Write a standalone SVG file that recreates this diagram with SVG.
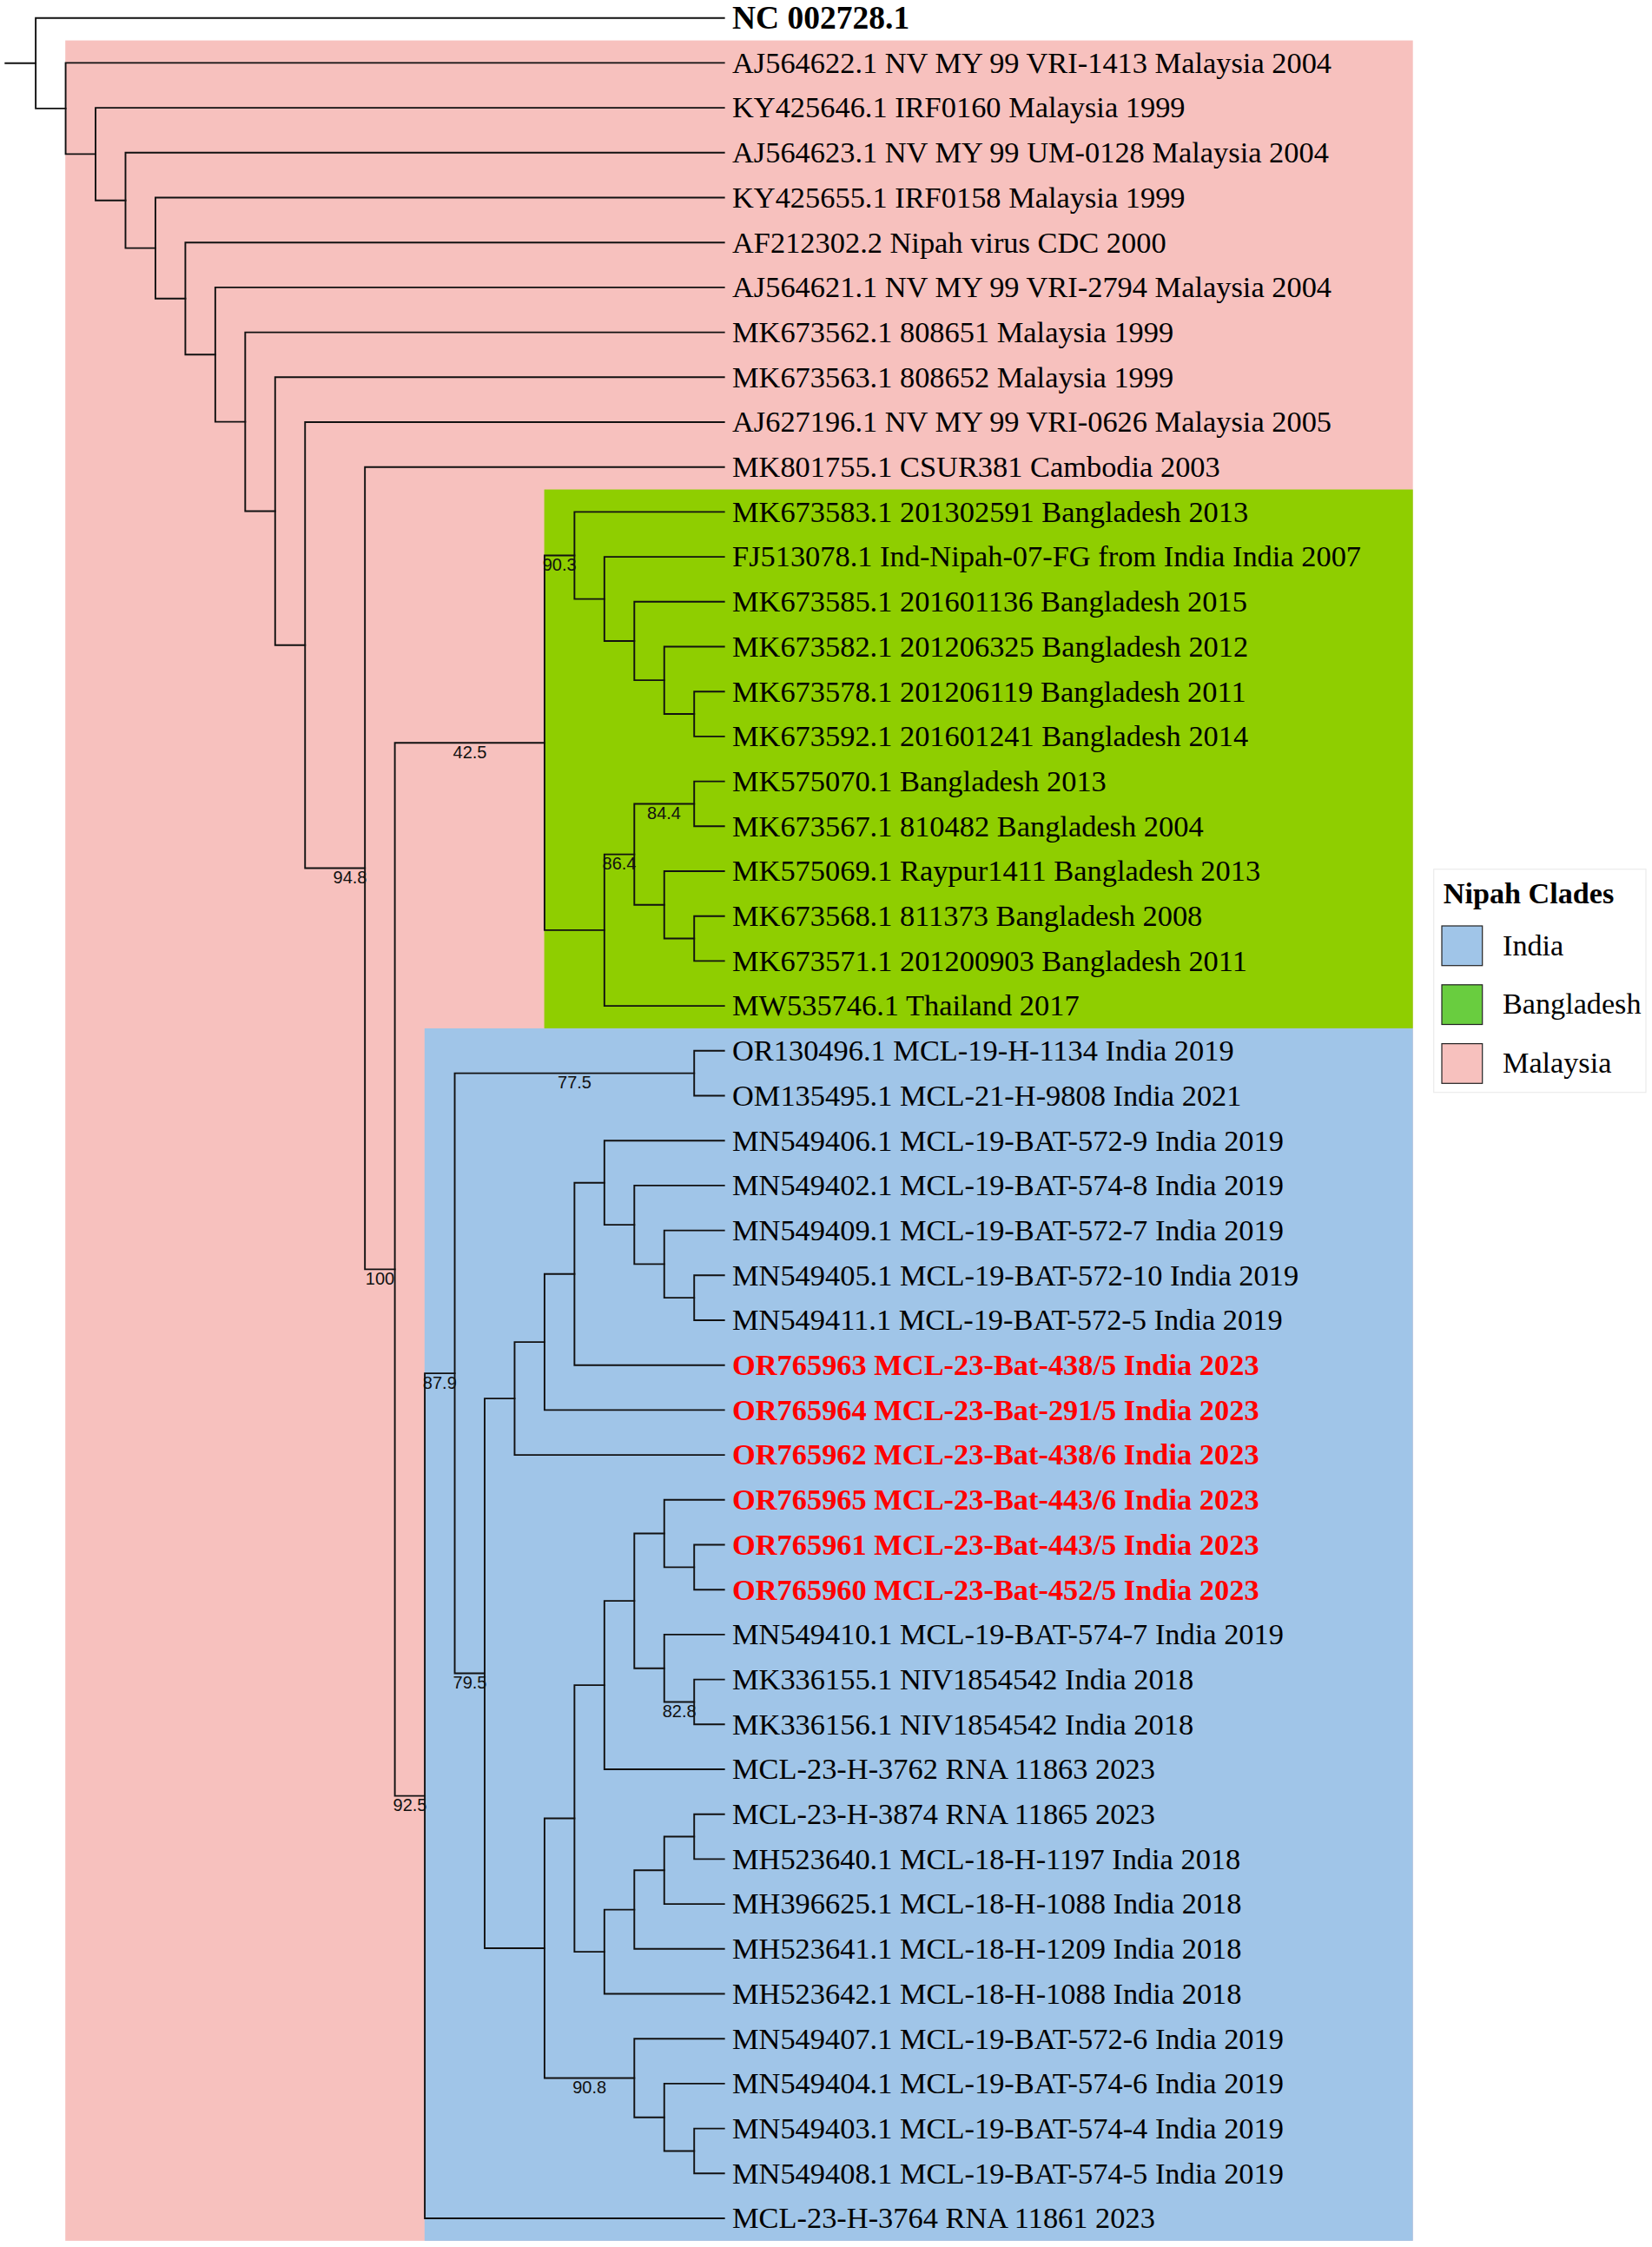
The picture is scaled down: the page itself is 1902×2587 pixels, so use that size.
<svg xmlns="http://www.w3.org/2000/svg" width="1902" height="2587" viewBox="0 0 1902 2587">
<style>
.tip{font-family:"Liberation Serif","Times New Roman",serif;font-size:34.4px;fill:#000}
.hl{font-weight:bold;fill:#f00}
.bold{font-weight:bold}
.big{font-size:37.5px}
.bs{font-family:"Liberation Sans",Arial,sans-serif;font-size:20px;fill:#111;text-anchor:middle}
.edge{fill:none;stroke:#111;stroke-width:1.9;stroke-linecap:square}
.lg{font-family:"Liberation Serif","Times New Roman",serif;font-size:34.2px;fill:#000}
.key{stroke:#222;stroke-width:1.2}
</style>
<rect width="1902" height="2587" fill="#fff"/>
<g id="clades">
<rect id="clade-malaysia" x="75.2" y="46.55" width="1551.5" height="2533.3" fill="#F7C1BE"/>
<rect id="clade-bangladesh" x="626.6" y="563.55" width="1000.1" height="620.4" fill="#8FCE00"/>
<rect id="clade-india" x="488.8" y="1183.95" width="1137.9" height="1395.9" fill="#A0C5E8"/>
</g>
<g id="connectors">
<path class="edge" d="M6.25,72.8H41.1"/>
<path class="edge" d="M41.1,20.7V124.9M41.1,20.7H833.7M41.1,124.9H75.56"/>
<path class="edge" d="M75.56,72.4V177.4M75.56,72.4H833.7M75.56,177.4H110.02"/>
<path class="edge" d="M110.02,124.1V230.7M110.02,124.1H833.7M110.02,230.7H144.48"/>
<path class="edge" d="M144.48,175.8V285.6M144.48,175.8H833.7M144.48,285.6H178.94"/>
<path class="edge" d="M178.94,227.5V343.7M178.94,227.5H833.7M178.94,343.7H213.4"/>
<path class="edge" d="M213.4,279.2V408.2M213.4,279.2H833.7M213.4,408.2H247.86"/>
<path class="edge" d="M247.86,330.9V485.6M247.86,330.9H833.7M247.86,485.6H282.32"/>
<path class="edge" d="M282.32,382.6V588.5M282.32,382.6H833.7M282.32,588.5H316.78"/>
<path class="edge" d="M316.78,434.3V742.8M316.78,434.3H833.7M316.78,742.8H351.24"/>
<path class="edge" d="M351.24,486V999.5M351.24,486H833.7M351.24,999.5H420.16"/>
<path class="edge" d="M420.16,537.7V1461.4M420.16,537.7H833.7M420.16,1461.4H454.62"/>
<path class="edge" d="M454.62,855.2V2067.6M454.62,855.2H626.92M454.62,2067.6H489.08"/>
<path class="edge" d="M626.92,639.5V1070.9M626.92,639.5H661.38M626.92,1070.9H695.84"/>
<path class="edge" d="M661.38,589.4V689.6M661.38,589.4H833.7M661.38,689.6H695.84"/>
<path class="edge" d="M695.84,641.1V738M695.84,641.1H833.7M695.84,738H730.3"/>
<path class="edge" d="M730.3,692.8V783.1M730.3,692.8H833.7M730.3,783.1H764.76"/>
<path class="edge" d="M764.76,744.5V822.05M764.76,744.5H833.7M764.76,822.05H799.22"/>
<path class="edge" d="M799.22,796.2V847.9M799.22,796.2H833.7M799.22,847.9H833.7"/>
<path class="edge" d="M695.84,983.6V1158.1M695.84,983.6H730.3M695.84,1158.1H833.7"/>
<path class="edge" d="M730.3,925.45V1041.8M730.3,925.45H799.22M730.3,1041.8H764.76"/>
<path class="edge" d="M799.22,899.6V951.3M799.22,899.6H833.7M799.22,951.3H833.7"/>
<path class="edge" d="M764.76,1003V1080.55M764.76,1003H833.7M764.76,1080.55H799.22"/>
<path class="edge" d="M799.22,1054.7V1106.4M799.22,1054.7H833.7M799.22,1106.4H833.7"/>
<path class="edge" d="M489.08,1581.1V2554M489.08,1581.1H523.54M489.08,2554H833.7"/>
<path class="edge" d="M523.54,1235.65V1926.5M523.54,1235.65H799.22M523.54,1926.5H558"/>
<path class="edge" d="M799.22,1209.8V1261.5M799.22,1209.8H833.7M799.22,1261.5H833.7"/>
<path class="edge" d="M558,1610.1V2243M558,1610.1H592.46M558,2243H626.92"/>
<path class="edge" d="M592.46,1545.1V1675.1M592.46,1545.1H626.92M592.46,1675.1H833.7"/>
<path class="edge" d="M626.92,1466.7V1623.4M626.92,1466.7H661.38M626.92,1623.4H833.7"/>
<path class="edge" d="M661.38,1361.7V1571.7M661.38,1361.7H695.84M661.38,1571.7H833.7"/>
<path class="edge" d="M695.84,1313.2V1410.1M695.84,1313.2H833.7M695.84,1410.1H730.3"/>
<path class="edge" d="M730.3,1364.9V1455.4M730.3,1364.9H833.7M730.3,1455.4H764.76"/>
<path class="edge" d="M764.76,1416.6V1494.15M764.76,1416.6H833.7M764.76,1494.15H799.22"/>
<path class="edge" d="M799.22,1468.3V1520M799.22,1468.3H833.7M799.22,1520H833.7"/>
<path class="edge" d="M626.92,2093.5V2392.5M626.92,2093.5H661.38M626.92,2392.5H730.3"/>
<path class="edge" d="M661.38,1940.1V2247.1M661.38,1940.1H695.84M661.38,2247.1H695.84"/>
<path class="edge" d="M695.84,1843.1V2037M695.84,1843.1H730.3M695.84,2037H833.7"/>
<path class="edge" d="M730.3,1765.5V1920.7M730.3,1765.5H764.76M730.3,1920.7H764.76"/>
<path class="edge" d="M764.76,1726.8V1804.35M764.76,1726.8H833.7M764.76,1804.35H799.22"/>
<path class="edge" d="M799.22,1778.5V1830.2M799.22,1778.5H833.7M799.22,1830.2H833.7"/>
<path class="edge" d="M764.76,1881.9V1959.45M764.76,1881.9H833.7M764.76,1959.45H799.22"/>
<path class="edge" d="M799.22,1933.6V1985.3M799.22,1933.6H833.7M799.22,1985.3H833.7"/>
<path class="edge" d="M695.84,2198.6V2295.5M695.84,2198.6H730.3M695.84,2295.5H833.7"/>
<path class="edge" d="M730.3,2153.3V2243.8M730.3,2153.3H764.76M730.3,2243.8H833.7"/>
<path class="edge" d="M764.76,2114.55V2192.1M764.76,2114.55H799.22M764.76,2192.1H833.7"/>
<path class="edge" d="M799.22,2088.7V2140.4M799.22,2088.7H833.7M799.22,2140.4H833.7"/>
<path class="edge" d="M730.3,2347.2V2437.7M730.3,2347.2H833.7M730.3,2437.7H764.76"/>
<path class="edge" d="M764.76,2398.9V2476.45M764.76,2398.9H833.7M764.76,2476.45H799.22"/>
<path class="edge" d="M799.22,2450.6V2502.3M799.22,2450.6H833.7M799.22,2502.3H833.7"/>
</g>
<g id="support-values">
<text class="bs" x="403" y="1017">94.8</text>
<text class="bs" x="541" y="872.7">42.5</text>
<text class="bs" x="437.5" y="1478.9">100</text>
<text class="bs" x="472" y="2085.1">92.5</text>
<text class="bs" x="506.3" y="1598.6">87.9</text>
<text class="bs" x="541" y="1944">79.5</text>
<text class="bs" x="661.5" y="1253.2">77.5</text>
<text class="bs" x="644.2" y="657">90.3</text>
<text class="bs" x="713" y="1001.1">86.4</text>
<text class="bs" x="764.5" y="943">84.4</text>
<text class="bs" x="782.2" y="1977">82.8</text>
<text class="bs" x="678.7" y="2410">90.8</text>
</g>
<g id="tips">
<g id="tip00"><text class="tip bold big" x="843" y="33">NC 002728.1</text></g>
<g id="tip01"><text class="tip" x="843" y="83.7">AJ564622.1 NV MY 99 VRI-1413 Malaysia 2004</text></g>
<g id="tip02"><text class="tip" x="843" y="135.4">KY425646.1 IRF0160 Malaysia 1999</text></g>
<g id="tip03"><text class="tip" x="843" y="187.1">AJ564623.1 NV MY 99 UM-0128 Malaysia 2004</text></g>
<g id="tip04"><text class="tip" x="843" y="238.8">KY425655.1 IRF0158 Malaysia 1999</text></g>
<g id="tip05"><text class="tip" x="843" y="290.5">AF212302.2 Nipah virus CDC 2000</text></g>
<g id="tip06"><text class="tip" x="843" y="342.2">AJ564621.1 NV MY 99 VRI-2794 Malaysia 2004</text></g>
<g id="tip07"><text class="tip" x="843" y="393.9">MK673562.1 808651 Malaysia 1999</text></g>
<g id="tip08"><text class="tip" x="843" y="445.6">MK673563.1 808652 Malaysia 1999</text></g>
<g id="tip09"><text class="tip" x="843" y="497.3">AJ627196.1 NV MY 99 VRI-0626 Malaysia 2005</text></g>
<g id="tip10"><text class="tip" x="843" y="549">MK801755.1 CSUR381 Cambodia 2003</text></g>
<g id="tip11"><text class="tip" x="843" y="600.7">MK673583.1 201302591 Bangladesh 2013</text></g>
<g id="tip12"><text class="tip" x="843" y="652.4">FJ513078.1 Ind-Nipah-07-FG from India India 2007</text></g>
<g id="tip13"><text class="tip" x="843" y="704.1">MK673585.1 201601136 Bangladesh 2015</text></g>
<g id="tip14"><text class="tip" x="843" y="755.8">MK673582.1 201206325 Bangladesh 2012</text></g>
<g id="tip15"><text class="tip" x="843" y="807.5">MK673578.1 201206119 Bangladesh 2011</text></g>
<g id="tip16"><text class="tip" x="843" y="859.2">MK673592.1 201601241 Bangladesh 2014</text></g>
<g id="tip17"><text class="tip" x="843" y="910.9">MK575070.1 Bangladesh 2013</text></g>
<g id="tip18"><text class="tip" x="843" y="962.6">MK673567.1 810482 Bangladesh 2004</text></g>
<g id="tip19"><text class="tip" x="843" y="1014.3">MK575069.1 Raypur1411 Bangladesh 2013</text></g>
<g id="tip20"><text class="tip" x="843" y="1066">MK673568.1 811373 Bangladesh 2008</text></g>
<g id="tip21"><text class="tip" x="843" y="1117.7">MK673571.1 201200903 Bangladesh 2011</text></g>
<g id="tip22"><text class="tip" x="843" y="1169.4">MW535746.1 Thailand 2017</text></g>
<g id="tip23"><text class="tip" x="843" y="1221.1">OR130496.1 MCL-19-H-1134 India 2019</text></g>
<g id="tip24"><text class="tip" x="843" y="1272.8">OM135495.1 MCL-21-H-9808 India 2021</text></g>
<g id="tip25"><text class="tip" x="843" y="1324.5">MN549406.1 MCL-19-BAT-572-9 India 2019</text></g>
<g id="tip26"><text class="tip" x="843" y="1376.2">MN549402.1 MCL-19-BAT-574-8 India 2019</text></g>
<g id="tip27"><text class="tip" x="843" y="1427.9">MN549409.1 MCL-19-BAT-572-7 India 2019</text></g>
<g id="tip28"><text class="tip" x="843" y="1479.6">MN549405.1 MCL-19-BAT-572-10 India 2019</text></g>
<g id="tip29"><text class="tip" x="843" y="1531.3">MN549411.1 MCL-19-BAT-572-5 India 2019</text></g>
<g id="tip30"><text class="tip hl" x="843" y="1583">OR765963 MCL-23-Bat-438/5 India 2023</text></g>
<g id="tip31"><text class="tip hl" x="843" y="1634.7">OR765964 MCL-23-Bat-291/5 India 2023</text></g>
<g id="tip32"><text class="tip hl" x="843" y="1686.4">OR765962 MCL-23-Bat-438/6 India 2023</text></g>
<g id="tip33"><text class="tip hl" x="843" y="1738.1">OR765965 MCL-23-Bat-443/6 India 2023</text></g>
<g id="tip34"><text class="tip hl" x="843" y="1789.8">OR765961 MCL-23-Bat-443/5 India 2023</text></g>
<g id="tip35"><text class="tip hl" x="843" y="1841.5">OR765960 MCL-23-Bat-452/5 India 2023</text></g>
<g id="tip36"><text class="tip" x="843" y="1893.2">MN549410.1 MCL-19-BAT-574-7 India 2019</text></g>
<g id="tip37"><text class="tip" x="843" y="1944.9">MK336155.1 NIV1854542 India 2018</text></g>
<g id="tip38"><text class="tip" x="843" y="1996.6">MK336156.1 NIV1854542 India 2018</text></g>
<g id="tip39"><text class="tip" x="843" y="2048.3">MCL-23-H-3762 RNA 11863 2023</text></g>
<g id="tip40"><text class="tip" x="843" y="2100">MCL-23-H-3874 RNA 11865 2023</text></g>
<g id="tip41"><text class="tip" x="843" y="2151.7">MH523640.1 MCL-18-H-1197 India 2018</text></g>
<g id="tip42"><text class="tip" x="843" y="2203.4">MH396625.1 MCL-18-H-1088 India 2018</text></g>
<g id="tip43"><text class="tip" x="843" y="2255.1">MH523641.1 MCL-18-H-1209 India 2018</text></g>
<g id="tip44"><text class="tip" x="843" y="2306.8">MH523642.1 MCL-18-H-1088 India 2018</text></g>
<g id="tip45"><text class="tip" x="843" y="2358.5">MN549407.1 MCL-19-BAT-572-6 India 2019</text></g>
<g id="tip46"><text class="tip" x="843" y="2410.2">MN549404.1 MCL-19-BAT-574-6 India 2019</text></g>
<g id="tip47"><text class="tip" x="843" y="2461.9">MN549403.1 MCL-19-BAT-574-4 India 2019</text></g>
<g id="tip48"><text class="tip" x="843" y="2513.6">MN549408.1 MCL-19-BAT-574-5 India 2019</text></g>
<g id="tip49"><text class="tip" x="843" y="2565.3">MCL-23-H-3764 RNA 11861 2023</text></g>
</g>
<g id="legend">
<rect x="1650.7" y="1000.7" width="244.3" height="257" fill="#fff" stroke="#ececec" stroke-width="1.2"/>
<text class="lg bold" x="1661.7" y="1040">Nipah Clades</text>
<rect class="key" x="1660" y="1066" width="46.7" height="45.7" fill="#A0C5E8"/>
<text class="lg" x="1730" y="1099.5">India</text>
<rect class="key" x="1660" y="1133.8" width="46.7" height="45.7" fill="#69CD3F"/>
<text class="lg" x="1730" y="1167.3">Bangladesh</text>
<rect class="key" x="1660" y="1201.6" width="46.7" height="45.7" fill="#F7C1BE"/>
<text class="lg" x="1730" y="1235.1">Malaysia</text>
</g>
</svg>
